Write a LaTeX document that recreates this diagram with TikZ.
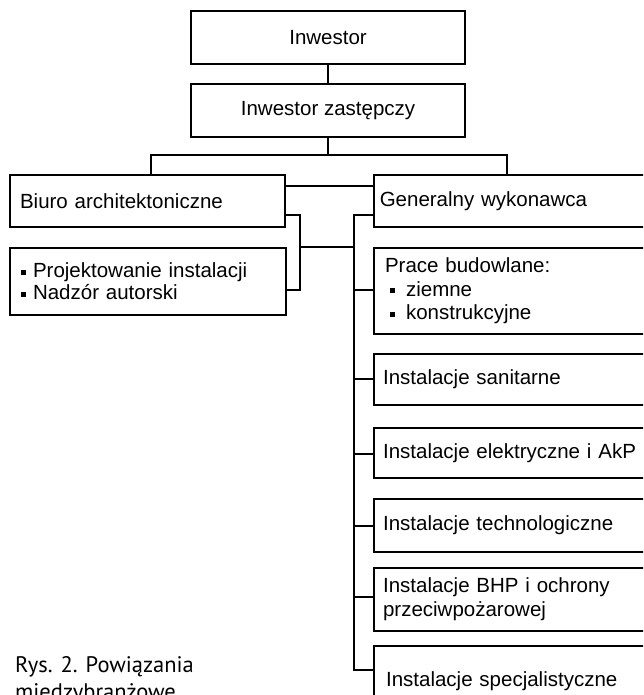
\documentclass[tikz,border=0pt]{standalone}
\usepackage{fontspec}
\setmainfont{Liberation Sans}
\newfontfamily\capfont{PT Sans}
\newcommand\sqb{\rule[3pt]{5pt}{5pt}}
\begin{document}
\begin{tikzpicture}[x=1pt,y=-1pt,
  box/.style={draw, line width=2.1pt, rectangle, anchor=north west, inner sep=0pt,
              font=\fontsize{20.5}{23}\selectfont},
  lbox/.style={box, align=left, inner xsep=#1},
  rbox/.style={lbox=9pt, minimum width=300, text width=282},
  wire/.style={line width=2.1pt},
  captxt/.style={anchor=base west, inner sep=0pt, font=\capfont\fontsize{22.5}{27}\selectfont}]
\useasboundingbox (0,0) rectangle (643,695);
\clip (0,0) rectangle (643,695);

% top boxes
\node[box, minimum width=274, minimum height=53] (inw) at (190,10) {Inwestor};
\node[box, minimum width=274, minimum height=53] (inwz) at (190,83) {Inwestor zastępczy};

% second level
\node[lbox=10pt, minimum width=275, minimum height=52, text width=255] (biuro) at (9,174) {Biuro architektoniczne};
\node[lbox=6pt, minimum width=300, minimum height=52, text width=288] (gen) at (372.7,174) {Generalny wykonawca};

\node[lbox=11pt, minimum width=276, minimum height=67, text width=254,
      font=\fontsize{20.5}{22}\selectfont] (proj) at (9,247)
  {\sqb\hspace{7pt}Projektowanie instalacji\\\sqb\hspace{7pt}Nadzór autorski};

% right column
\node[rbox, minimum height=86, inner xsep=11pt, text width=278,
      font=\fontsize{20.5}{23.5}\selectfont] (prace) at (373,247)
  {Prace budowlane:\\\hspace*{5pt}\sqb\hspace{11pt}ziemne\\\hspace*{5pt}\sqb\hspace{11pt}konstrukcyjne};
\node[rbox, minimum height=51.3] (sanit) at (373,352.7) {Instalacje sanitarne};
\node[rbox, minimum height=50.6] (elek) at (373,426.7) {Instalacje elektryczne i AkP};
\node[rbox, minimum height=53] (tech) at (373,498) {Instalacje technologiczne};
\node[rbox, minimum height=63, font=\fontsize{20.5}{24}\selectfont] (bhp) at (373,567)
  {Instalacje BHP i ochrony\\przeciwpożarowej};
\node[rbox, minimum height=70, inner xsep=12pt] (spec) at (373,645) {Instalacje specjalistyczne};

% caption
\node[captxt] (cap1) at (15,672) {Rys. 2. Powiązania};
\node[captxt] (cap2) at (15,699) {miedzybranżowe};

% connectors
\coordinate (bl) at (151,155);
\coordinate (gr) at (506.7,155);
\coordinate (lv) at (300,247);
\coordinate (rv) at (354,247);
\draw[wire] (inw.south) -- (inwz.north);
\draw[wire] (inwz.south) -- (inwz.south |- bl);
\draw[wire] (biuro.north -| bl) -- (bl) -- (gr) -- (gen.north -| gr);
\draw[wire] (biuro.east |- 0,186) -- (gen.west |- 0,186);
\draw[wire] (biuro.east |- 0,215) -- (lv |- 0,215) -- (lv |- 0,290) -- (proj.east |- 0,290);
\draw[wire] (lv) -- (rv);
\draw[wire] (gen.west |- 0,215) -- (rv |- 0,215) -- (rv |- 0,670) -- (spec.west |- 0,670);
\draw[wire] (rv |- 0,290) -- (prace.west |- 0,290);
\draw[wire] (rv |- sanit.west) -- (sanit.west);
\draw[wire] (rv |- 0,454) -- (elek.west |- 0,454);
\draw[wire] (rv |- tech.west) -- (tech.west);
\draw[wire] (rv |- 0,597) -- (bhp.west |- 0,597);
\end{tikzpicture}
\end{document}
